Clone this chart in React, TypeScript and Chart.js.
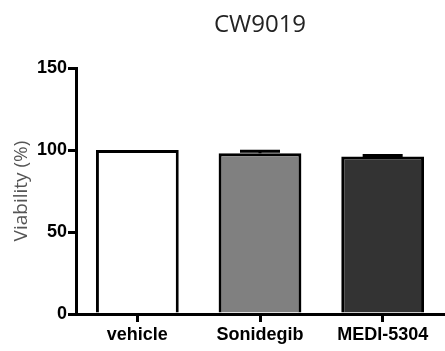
import React, { useEffect, useRef } from "react";
import { Chart, registerables } from "chart.js";

Chart.register(...registerables);

const chartTitle = "CW9019";
const yAxisTitle = "Viability (%)";
const categories = ["vehicle", "Sonidegib", "MEDI-5304"];
const viability = [100, 98, 96];
const sem = [0, 1.2, 0.6];
const barColors = ["#ffffff", "#808080", "#333333"];
const yTicks = [0, 50, 100, 150];

const titlePlugin = {
  id: "centeredTitle",
  afterDraw(chart: any) {
    const { ctx, chartArea } = chart;
    ctx.save();
    ctx.font = "24px 'Open Sans'";
    ctx.fillStyle = "#222222";
    ctx.textAlign = "center";
    ctx.textBaseline = "middle";
    ctx.fillText(chartTitle, (chartArea.left + chartArea.right) / 2, 25);
    ctx.restore();
  },
};

const errorBarPlugin = {
  id: "errorBars",
  afterDatasetsDraw(chart: any) {
    const { ctx } = chart;
    const y = chart.scales.y;
    const meta = chart.getDatasetMeta(0);
    ctx.save();
    ctx.strokeStyle = "#000000";
    ctx.lineWidth = 3;
    meta.data.forEach((bar: any, i: number) => {
      if (!sem[i]) return;
      const top = y.getPixelForValue(viability[i] + sem[i]);
      const base = y.getPixelForValue(viability[i]);
      ctx.beginPath();
      ctx.moveTo(bar.x, base);
      ctx.lineTo(bar.x, top);
      ctx.moveTo(bar.x - 20, top);
      ctx.lineTo(bar.x + 20, top);
      ctx.stroke();
    });
    ctx.restore();
  },
};

export default function App() {
  const ref = useRef<HTMLCanvasElement>(null);
  useEffect(() => {
    if (!ref.current) return;
    const chart = new Chart(ref.current, {
      type: "bar",
      data: {
        labels: categories,
        datasets: [
          {
            data: viability,
            backgroundColor: barColors,
            borderColor: "#000000",
            borderWidth: 3,
            borderSkipped: "start",
            barPercentage: 0.675,
            categoryPercentage: 1,
          },
        ],
      },
      options: {
        animation: false,
        responsive: false,
        maintainAspectRatio: false,
        layout: { padding: { top: 68, left: 0, right: 1, bottom: 0 } },
        plugins: {
          legend: { display: false },
          title: { display: false },
          tooltip: { enabled: false },
        },
        scales: {
          x: {
            afterFit: (s: any) => {
              s.height = 37;
            },
            grid: {
              display: true,
              drawOnChartArea: false,
              drawTicks: true,
              offset: false,
              tickLength: 8,
              lineWidth: 3,
              color: "#000000",
            },
            border: { display: true, width: 3, color: "#000000" },
            ticks: {
              color: "#000000",
              font: { family: "'Liberation Sans', Arial", size: 18, weight: "bold" },
              padding: 2,
              maxRotation: 0,
              autoSkip: false,
            },
          },
          y: {
            min: 0,
            max: 150,
            afterFit: (s: any) => {
              s.width = 76;
            },
            afterBuildTicks: (s: any) => {
              s.ticks = yTicks.map((v) => ({ value: v }));
            },
            grid: {
              display: true,
              drawOnChartArea: false,
              drawTicks: true,
              tickLength: 8,
              lineWidth: 3,
              color: "#000000",
            },
            border: { display: true, width: 3, color: "#000000" },
            ticks: {
              color: "#000000",
              font: { family: "'Liberation Sans', Arial", size: 18, weight: "bold" },
              padding: 1,
            },
            title: {
              display: true,
              text: yAxisTitle,
              color: "#555555",
              font: { family: "'Open Sans'", size: 19 },
              padding: { top: 10, bottom: 0 },
            },
          },
        },
      },
      plugins: [titlePlugin, errorBarPlugin],
    });
    return () => chart.destroy();
  }, []);
  return (
    <div style={{ position: "absolute", left: 0, top: 0, width: 445, height: 351, background: "#fff" }}>
      <canvas ref={ref} width={445} height={351} style={{ width: 445, height: 351, display: "block" }} />
    </div>
  );
}
